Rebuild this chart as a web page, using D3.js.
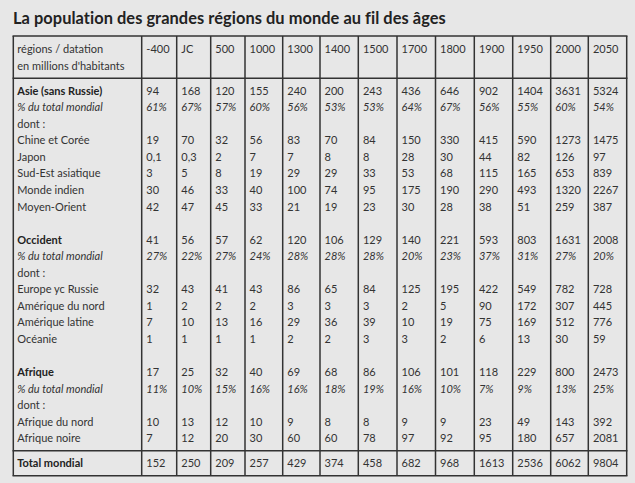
<!DOCTYPE html>
<html lang="fr">
<head>
<meta charset="UTF-8">
<title>La population des grandes régions du monde au fil des âges</title>
<script src="https://d3js.org/d3.v7.min.js"></script>
<style>
  body { margin: 0; background: #e7e7e7; }
  svg { display: block; font-family: Lato, "Open Sans", sans-serif; }
  .cell { font-size: 11px; fill: #333; }
  .bold { font-weight: bold; fill: #222; }
  .pct { font-style: italic; }
  .title { font-size: 16.4px; font-weight: bold; fill: #222; }
</style>
</head>
<body>
<svg id="chart" width="635" height="483"></svg>
<script>
// données (millions d'habitants)
var years = ['-400', 'JC', '500', '1000', '1300', '1400', '1500', '1700', '1800', '1900', '1950', '2000', '2050'];

var asie        = [94, 168, 120, 155, 240, 200, 243, 436, 646, 902, 1404, 3631, 5324];
var asiePct     = [61, 67, 57, 60, 56, 53, 53, 64, 67, 56, 55, 60, 54];
var chine       = [19, 70, 32, 56, 83, 70, 84, 150, 330, 415, 590, 1273, 1475];
var japon       = ['0,1', '0,3', 2, 7, 7, 8, 8, 28, 30, 44, 82, 126, 97];
var sudEst      = [3, 5, 8, 19, 29, 29, 33, 53, 68, 115, 165, 653, 839];
var indien      = [30, 46, 33, 40, 100, 74, 95, 175, 190, 290, 493, 1320, 2267];
var moyenOrient = [42, 47, 45, 33, 21, 19, 23, 30, 28, 38, 51, 259, 387];

var occident    = [41, 56, 57, 62, 120, 106, 129, 140, 221, 593, 803, 1631, 2008];
var occPct      = [27, 22, 27, 24, 28, 28, 28, 20, 23, 37, 31, 27, 20];
var europe      = [32, 43, 41, 43, 86, 65, 84, 125, 195, 422, 549, 782, 728];
var amNord      = [1, 2, 2, 2, 3, 3, 3, 2, 5, 90, 172, 307, 445];
var amLatine    = [7, 10, 13, 16, 29, 36, 39, 10, 19, 75, 169, 512, 776];
var oceanie     = [1, 1, 1, 1, 2, 2, 3, 3, 2, 6, 13, 30, 59];

var afrique     = [17, 25, 32, 40, 69, 68, 86, 106, 101, 118, 229, 800, 2473];
var afrPct      = [11, 10, 15, 16, 16, 18, 19, 16, 10, 7, 9, 13, 25];
var afNord      = [10, 13, 12, 10, 9, 8, 8, 9, 9, 23, 49, 143, 392];
var afNoire     = [7, 12, 20, 30, 60, 60, 78, 97, 92, 95, 180, 657, 2081];

var total       = [152, 250, 209, 257, 429, 374, 458, 682, 968, 1613, 2536, 6062, 9804];

var headerLines = ['régions / datation', "en millions d'habitants"];

// lignes du corps du tableau (null = ligne vide)
var rows = [
  { label: 'Asie (sans Russie)', values: asie, type: 'bold' },
  { label: '% du total mondial', values: asiePct, type: 'pct' },
  { label: 'dont :', values: null },
  { label: 'Chine et Corée', values: chine },
  { label: 'Japon', values: japon },
  { label: 'Sud-Est asiatique', values: sudEst },
  { label: 'Monde indien', values: indien },
  { label: 'Moyen-Orient', values: moyenOrient },
  null,
  { label: 'Occident', values: occident, type: 'bold' },
  { label: '% du total mondial', values: occPct, type: 'pct' },
  { label: 'dont :', values: null },
  { label: 'Europe yc Russie', values: europe },
  { label: 'Amérique du nord', values: amNord },
  { label: 'Amérique latine', values: amLatine },
  { label: 'Océanie', values: oceanie },
  null,
  { label: 'Afrique', values: afrique, type: 'bold' },
  { label: '% du total mondial', values: afrPct, type: 'pct' },
  { label: 'dont :', values: null },
  { label: 'Afrique du nord', values: afNord },
  { label: 'Afrique noire', values: afNoire }
];

var svg = d3.select('#chart');

// largeurs des colonnes
var colWidths = [128.4, 35, 34, 34.3, 37.7, 37.3, 38.3, 38.7, 38.5, 38.8, 38.4, 38, 37.6, 38.4];
var tableLeft = 13.3;
var edges = [tableLeft].concat(Array.from(d3.cumsum(colWidths), function(w) { return tableLeft + w; }));

var tableTop = 36, headBottom = 78.3, totalTop = 450.8, tableBottom = 475.8;

var yLine = d3.scaleLinear().domain([0, rows.length - 1]).range([90.7, 438.3]);
var yHead = d3.scaleLinear().domain([0, 1]).range([49, 65.7]);
var yTotal = 462.7;

// titre
svg.append('text')
  .attr('class', 'title')
  .attr('x', 13)
  .attr('y', 24.3)
  .attr('letter-spacing', 0.05)
  .text('La population des grandes régions du monde au fil des âges');

// bordures
var grid = svg.append('g')
  .attr('stroke', '#333')
  .attr('stroke-width', 1.5)
  .attr('fill', 'none');

grid.selectAll('line.v')
  .data(edges)
  .enter().append('line')
  .attr('class', 'v')
  .attr('x1', function(d) { return d; })
  .attr('x2', function(d) { return d; })
  .attr('y1', tableTop)
  .attr('y2', tableBottom);

grid.selectAll('line.h')
  .data([tableTop, headBottom, totalTop, tableBottom])
  .enter().append('line')
  .attr('class', 'h')
  .attr('x1', edges[0] - 0.75)
  .attr('x2', edges[edges.length - 1] + 0.75)
  .attr('y1', function(d) { return d; })
  .attr('y2', function(d) { return d; });

function cellX(i) { return edges[i] + (i === 0 ? 4 : 4.6); }

// en-tête
svg.selectAll('text.head')
  .data(headerLines)
  .enter().append('text')
  .attr('class', 'cell head')
  .attr('x', cellX(0))
  .attr('y', function(d, i) { return yHead(i); })
  .attr('dy', '0.36em')
  .text(function(d) { return d; });

svg.selectAll('text.year')
  .data(years)
  .enter().append('text')
  .attr('class', 'cell year')
  .attr('x', function(d, i) { return cellX(i + 1); })
  .attr('y', yHead(0))
  .attr('dy', '0.36em')
  .text(function(d) { return d; });

// corps
var body = svg.append('g');
rows.forEach(function(r, ri) {
  if (!r) return;
  var cls = 'cell' + (r.type ? ' ' + r.type : '');
  body.append('text')
    .attr('class', cls)
    .attr('x', cellX(0))
    .attr('y', yLine(ri))
    .attr('dy', '0.36em')
    .text(r.label);
  if (!r.values) return;
  body.selectAll('text.r' + ri)
    .data(r.values)
    .enter().append('text')
    .attr('class', 'cell r' + ri + (r.type === 'pct' ? ' pct' : ''))
    .attr('x', function(d, i) { return cellX(i + 1); })
    .attr('y', yLine(ri))
    .attr('dy', '0.36em')
    .text(function(d) { return r.type === 'pct' ? d + '%' : d; });
});

// total
svg.append('text')
  .attr('class', 'cell bold')
  .attr('x', cellX(0))
  .attr('y', yTotal)
  .attr('dy', '0.36em')
  .text('Total mondial');

svg.selectAll('text.total')
  .data(total)
  .enter().append('text')
  .attr('class', 'cell total')
  .attr('x', function(d, i) { return cellX(i + 1); })
  .attr('y', yTotal)
  .attr('dy', '0.36em')
  .text(function(d) { return d; });
</script>
</body>
</html>
